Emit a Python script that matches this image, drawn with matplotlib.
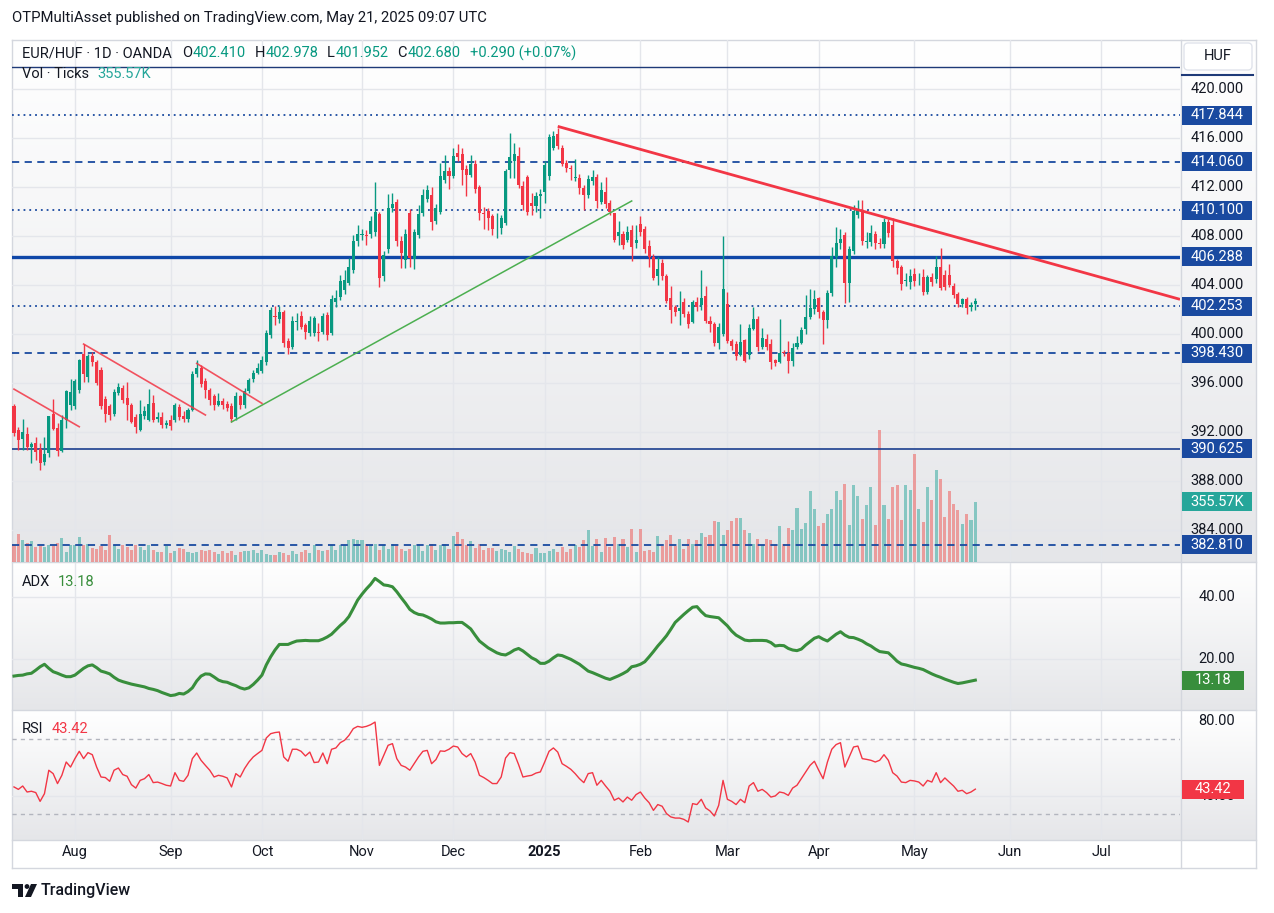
"""
EUR/HUF daily chart (TradingView style) with volume, ADX and RSI panes.
"""

import numpy as np
import pandas as pd
import matplotlib
matplotlib.use("Agg")
import matplotlib.pyplot as plt
import matplotlib.transforms as mtransforms
from matplotlib.patches import Rectangle, FancyBboxPatch, Polygon, Circle
from matplotlib.colors import LinearSegmentedColormap

W, H = 1274, 913

# ── Data ────────────────────────────────────────────────
HOLIDAYS = ["2024-12-25", "2025-01-01"]

jul_open = [394.13, 392.17, 391.43, 391.84, 390.81, 391.08, 390.62, 389.58, 390.30, 393.47, 392.36, 390.48, 392.98, 394.20]
jul_high = [394.30, 392.44, 393.04, 392.44, 391.21, 391.62, 391.08, 391.62, 393.31, 394.67, 392.70, 393.39, 395.43, 396.30]
jul_low = [391.68, 390.53, 390.53, 390.50, 389.50, 389.72, 388.90, 389.31, 389.99, 392.20, 390.04, 390.40, 392.30, 393.80]
jul_close = [391.90, 391.35, 392.03, 390.81, 391.02, 390.40, 389.50, 390.21, 393.31, 392.25, 390.48, 392.98, 395.38, 395.30]

aug_open = [394.10, 395.40, 398.40, 396.50, 398.20, 397.70, 397.10, 394.70, 394.10, 393.50, 395.20, 395.60, 394.80, 394.20, 393.20, 392.20, 393.30, 393.00, 394.40, 393.10, 393.20, 392.60]
aug_high = [396.30, 398.00, 399.20, 398.40, 398.50, 397.90, 397.30, 394.90, 394.30, 395.50, 396.00, 395.80, 396.10, 394.40, 393.50, 394.60, 394.10, 395.50, 395.00, 393.60, 393.60, 393.00]
aug_low = [393.90, 395.20, 396.10, 396.10, 397.40, 395.80, 393.90, 392.80, 393.00, 393.30, 395.00, 394.40, 393.00, 392.70, 391.90, 392.10, 393.10, 392.90, 392.80, 392.80, 392.30, 392.30]
aug_close = [396.20, 397.90, 396.70, 398.20, 397.70, 396.00, 394.10, 393.50, 393.40, 395.30, 395.70, 394.60, 394.20, 392.85, 392.44, 393.50, 393.75, 394.30, 393.00, 393.20, 392.60, 392.70]

sep_open = [393.00, 392.98, 394.07, 393.30, 393.10, 393.80, 396.70, 397.20, 396.20, 395.40, 394.90, 394.20, 394.50, 394.30, 394.10, 393.25, 394.90, 394.20, 395.35, 396.30, 396.85]
sep_high = [393.40, 394.40, 394.30, 393.70, 394.00, 397.00, 397.90, 397.50, 396.40, 395.60, 395.10, 395.20, 394.80, 394.50, 394.40, 395.30, 395.00, 395.60, 396.40, 397.10, 397.60]
sep_low = [392.20, 392.80, 393.00, 392.80, 392.80, 393.70, 396.50, 395.70, 394.80, 394.20, 393.80, 394.10, 393.90, 393.70, 392.80, 393.00, 393.90, 394.00, 395.20, 396.10, 396.70]
sep_close = [392.50, 394.20, 393.25, 393.10, 393.80, 396.70, 397.20, 395.90, 395.40, 394.60, 394.20, 394.50, 394.20, 394.00, 393.10, 394.90, 394.20, 395.35, 396.25, 396.80, 397.20]

oct_open = [397.00, 397.70, 399.90, 401.50, 401.20, 401.80, 399.40, 398.90, 401.00, 401.50, 400.70, 400.10, 400.10, 400.20, 400.20, 401.55, 400.06, 402.60, 403.04, 403.60, 404.20, 405.20, 407.60]
oct_high = [398.20, 400.30, 402.20, 402.30, 402.30, 402.00, 399.70, 401.50, 401.70, 401.90, 400.90, 401.50, 401.50, 400.90, 401.70, 401.80, 403.20, 403.60, 404.80, 405.20, 406.20, 408.10, 408.90]
oct_low = [396.80, 397.50, 399.70, 400.70, 400.90, 398.90, 398.40, 398.80, 400.30, 400.40, 399.60, 399.80, 399.80, 399.40, 400.00, 399.50, 399.90, 402.20, 402.80, 403.30, 404.00, 405.00, 407.20]
oct_close = [397.90, 400.10, 402.00, 401.35, 401.80, 399.30, 398.85, 401.06, 401.10, 400.60, 400.20, 401.10, 401.30, 400.10, 401.47, 399.90, 402.86, 402.90, 404.30, 404.40, 405.50, 407.60, 408.20]

nov_open = [408.10, 408.10, 408.15, 408.35, 409.80, 404.70, 406.90, 410.26, 410.80, 407.60, 406.04, 409.85, 406.10, 408.10, 409.85, 411.00, 411.34, 409.20, 410.00, 412.60, 413.30]
nov_high = [408.60, 408.50, 409.60, 412.40, 410.00, 406.80, 411.40, 411.50, 411.00, 408.00, 408.60, 410.20, 408.60, 410.50, 411.80, 412.20, 412.00, 410.60, 414.00, 414.60, 413.60]
nov_low = [407.70, 407.30, 407.80, 408.00, 403.80, 404.30, 406.60, 410.00, 407.20, 405.40, 405.40, 405.50, 405.30, 407.80, 409.60, 410.80, 408.50, 409.00, 409.80, 412.30, 411.80]
nov_close = [408.10, 408.00, 409.25, 409.98, 404.60, 406.45, 410.26, 410.60, 407.60, 406.60, 408.20, 406.20, 408.35, 409.80, 411.35, 411.75, 409.17, 410.26, 412.90, 413.30, 412.90]

dec_open = [412.90, 414.75, 414.70, 413.50, 413.00, 413.90, 412.00, 409.90, 410.07, 409.60, 408.70, 408.63, 409.04, 413.39, 414.15, 414.53, 412.11, 412.85, 410.67, 410.48, 411.30]
dec_high = [415.20, 415.50, 415.20, 413.80, 414.60, 414.20, 412.20, 410.40, 410.30, 409.80, 409.90, 409.70, 413.50, 416.40, 415.60, 415.30, 412.50, 413.00, 411.50, 411.60, 411.80]
dec_low = [412.70, 414.10, 412.20, 411.30, 412.80, 411.50, 409.30, 408.60, 408.50, 408.10, 407.80, 408.20, 408.90, 412.70, 412.70, 411.90, 410.10, 409.70, 409.70, 410.00, 409.50]
dec_close = [414.50, 414.47, 413.40, 413.00, 413.90, 411.80, 409.90, 409.80, 409.44, 408.54, 408.75, 409.44, 413.31, 414.45, 414.67, 412.17, 410.53, 409.99, 410.48, 411.27, 411.43]

jan_open = [411.62, 412.90, 415.21, 416.33, 415.16, 413.93, 413.58, 412.71, 412.71, 411.95, 411.35, 412.49, 412.85, 410.75, 411.57, 410.67, 409.85, 408.03, 408.14, 407.68, 408.49, 407.46]
jan_high = [414.10, 416.30, 416.60, 416.85, 415.40, 414.20, 413.80, 414.30, 413.10, 412.20, 413.00, 413.40, 413.10, 412.40, 412.80, 410.90, 409.90, 409.20, 408.40, 408.80, 408.90, 408.90]
jan_low = [410.70, 412.60, 415.00, 415.10, 413.70, 413.20, 412.60, 412.50, 411.40, 410.10, 411.10, 412.20, 410.30, 410.60, 410.30, 409.70, 407.50, 407.30, 406.90, 407.50, 406.00, 407.00]
jan_close = [413.80, 416.11, 416.17, 415.38, 413.88, 413.58, 413.47, 412.79, 411.95, 411.35, 412.66, 412.85, 410.86, 411.76, 410.59, 409.99, 407.68, 408.36, 407.27, 408.30, 407.13, 407.68]

feb_open = [409.00, 408.60, 407.20, 406.30, 404.70, 405.80, 404.70, 402.90, 402.20, 401.90, 402.60, 401.60, 401.00, 402.60, 402.40, 403.10, 401.10, 400.80, 399.30, 400.00]
feb_high = [409.60, 408.80, 407.70, 406.50, 406.30, 406.10, 404.90, 403.90, 402.40, 403.50, 402.90, 401.90, 402.80, 403.00, 405.20, 403.90, 401.50, 401.00, 400.90, 408.00]
feb_low = [408.00, 406.60, 405.50, 404.40, 404.00, 404.40, 402.50, 400.90, 401.50, 400.70, 401.40, 400.50, 400.90, 401.90, 402.00, 400.90, 400.20, 399.00, 398.80, 399.80]
feb_close = [408.30, 406.90, 406.30, 404.55, 405.30, 404.70, 402.70, 402.00, 401.80, 402.10, 401.60, 400.80, 402.60, 402.20, 402.90, 401.10, 400.80, 399.30, 400.60, 403.65]

mar_open = [402.45, 399.46, 399.19, 398.29, 399.51, 398.29, 400.41, 401.20, 398.97, 399.60, 399.19, 397.88, 397.75, 398.51, 398.48, 397.83, 398.92, 399.24, 400.41, 401.36, 402.02]
mar_high = [403.40, 399.60, 399.40, 400.80, 399.60, 400.80, 402.18, 401.50, 400.50, 400.00, 399.60, 398.00, 401.20, 398.70, 399.40, 399.30, 399.80, 400.60, 403.19, 403.70, 403.60]
mar_low = [399.30, 398.70, 397.88, 398.20, 397.70, 398.00, 400.30, 398.60, 398.80, 398.70, 397.12, 397.40, 397.60, 398.20, 396.85, 397.40, 398.80, 399.20, 400.00, 401.20, 401.60]
mar_close = [399.46, 399.02, 398.21, 399.32, 397.83, 400.52, 401.20, 398.97, 399.70, 398.92, 397.75, 397.66, 398.43, 398.43, 397.83, 398.89, 399.24, 400.33, 401.36, 402.10, 402.83]

apr_open = [402.92, 401.83, 401.15, 403.32, 406.32, 407.41, 408.09, 404.14, 406.78, 409.72, 410.05, 407.54, 407.54, 408.14, 407.46, 407.35, 409.17, 408.90, 405.99, 405.50, 404.33, 404.28]
apr_high = [403.00, 402.00, 403.60, 407.13, 408.70, 408.60, 408.30, 407.20, 410.50, 410.94, 410.94, 408.30, 408.90, 408.40, 407.80, 409.50, 409.40, 409.50, 406.10, 405.60, 405.00, 405.30]
apr_low = [401.30, 399.20, 400.50, 403.10, 405.50, 406.90, 402.56, 402.64, 406.50, 409.50, 407.30, 407.00, 407.20, 406.90, 407.00, 407.00, 407.90, 405.50, 404.90, 403.60, 403.90, 403.70]
apr_close = [401.83, 401.15, 403.32, 406.37, 407.41, 407.73, 404.14, 406.92, 410.05, 410.13, 407.62, 407.62, 408.22, 407.46, 407.35, 409.17, 408.28, 405.99, 405.37, 404.09, 404.41, 404.74]

may_open = [404.90, 404.47, 404.63, 403.46, 404.63, 404.47, 405.50, 404.82, 404.82, 403.95, 403.27, 402.45, 402.89, 402.18, 402.41]
may_high = [405.40, 405.00, 405.30, 404.80, 405.00, 406.40, 407.00, 405.20, 405.70, 404.20, 403.40, 402.90, 403.00, 402.60, 402.978]
may_low = [403.90, 404.00, 403.20, 403.30, 403.90, 404.20, 403.60, 403.60, 403.80, 402.90, 402.20, 402.20, 401.60, 401.90, 401.952]
may_close = [404.36, 404.50, 403.46, 404.63, 404.28, 405.50, 403.73, 403.81, 404.00, 403.19, 402.45, 402.83, 402.10, 402.39, 402.68]

# tick volume, thousands
volume_k = (
    [99, 168, 128, 115, 122, 89, 93, 89, 99, 93, 115, 142, 57, 103]
    + [99, 148, 99, 105, 85, 79, 93, 69, 158, 99, 75, 99, 89, 69, 99, 89, 69, 99, 69, 59, 59, 93]
    + [53, 65, 83, 79, 59, 53, 59, 73, 63, 69, 57, 49, 63, 55, 63, 43, 57, 63, 65, 73, 55]
    + [69, 49, 43, 40, 59, 53, 40, 65, 49, 59, 69, 53, 99, 69, 65, 69, 99, 69, 99, 103, 128, 138, 132]
    + [132, 105, 99, 105, 73, 99, 79, 105, 93, 79, 65, 79, 99, 105, 65, 103, 105, 73, 99, 109, 79]
    + [152, 178, 134, 99, 124, 83, 105, 69, 85, 83, 63, 79, 73, 59, 93, 79, 57, 55, 49, 83, 53]
    + [53, 65, 79, 59, 89, 59, 79, 99, 89, 128, 188, 93, 138, 59, 144, 89, 148, 105, 134, 89, 198, 59]
    + [198, 63, 69, 59, 152, 93, 132, 162, 93, 138, 79, 138, 105, 132, 172, 148, 158, 243, 237, 158]
    + [188, 241, 261, 261, 188, 172, 105, 138, 99, 138, 128, 99, 211, 109, 203, 188, 322, 198, 231, 419, 316]
    + [211, 231, 282, 316, 419, 365, 464, 217, 454, 389, 253, 336, 444, 217, 780, 336, 253, 444, 454, 251, 458, 425]
    + [642, 316, 237, 444, 365, 547, 494, 267, 421, 346, 310, 223, 282, 251, 355.57]
)

adx = (
    [14.5, 14.7, 14.8, 15.2, 15.4, 16.4, 17.5, 18.3, 17.0, 15.9, 15.4, 14.8, 14.3, 14.3]
    + [14.8, 15.9, 17.0, 17.8, 18.1, 17.2, 16.1, 15.7, 15.2, 14.1, 13.2, 12.7, 12.3, 11.9, 11.6, 11.3, 11.0, 10.5, 10.2, 9.8, 9.2, 8.7]
    + [8.2, 8.4, 8.9, 8.7, 9.5, 10.7, 12.9, 14.5, 15.2, 15.1, 14.2, 13.2, 12.7, 12.5, 11.9, 11.4, 10.7, 10.3, 10.7, 11.8, 13.2]
    + [14.8, 18.1, 20.7, 22.9, 24.7, 24.7, 24.7, 25.3, 25.8, 25.9, 26.0, 25.9, 25.9, 25.9, 26.4, 27.1, 28.0, 29.4, 30.8, 32.0, 33.7, 36.3, 39.0]
    + [40.9, 42.6, 44.1, 46.0, 45.0, 43.9, 43.7, 43.3, 41.7, 39.8, 38.0, 36.0, 35.0, 34.4, 34.2, 33.6, 32.9, 32.0, 31.6, 31.6, 31.7]
    + [31.7, 31.8, 31.8, 30.8, 29.7, 27.7, 25.8, 24.7, 23.6, 22.8, 22.0, 21.5, 21.3, 22.0, 22.9, 23.4, 22.6, 21.5, 20.4, 19.7, 18.6]
    + [18.6, 19.3, 20.4, 21.3, 21.1, 20.5, 19.9, 19.1, 18.3, 17.2, 16.1, 15.6, 15.0, 14.4, 13.8, 13.4, 14.0, 14.6, 15.3, 16.1, 17.5, 17.8]
    + [18.3, 19.1, 20.7, 22.4, 24.2, 25.8, 27.5, 29.6, 31.8, 33.1, 34.4, 35.6, 36.7, 36.9, 35.3, 34.0, 33.7, 33.5, 33.3, 32.0]
    + [30.7, 29.0, 27.7, 26.9, 26.1, 25.9, 26.0, 26.0, 26.0, 25.9, 25.3, 24.2, 24.4, 24.3, 23.4, 22.9, 22.7, 23.2, 24.5, 25.6, 26.7]
    + [27.2, 26.4, 25.8, 26.9, 28.0, 28.8, 27.7, 27.0, 26.9, 26.4, 25.8, 24.9, 24.2, 23.2, 22.4, 22.2, 22.0, 20.7, 19.3, 18.4, 18.1, 17.7]
    + [17.3, 17.0, 16.6, 15.9, 15.2, 14.6, 14.1, 13.5, 13.0, 12.5, 12.1, 12.3, 12.6, 12.9, 13.18]
)

rsi = (
    [44.6, 43.3, 45.1, 41.9, 42.3, 41.6, 36.9, 41.0, 53.5, 51.7, 46.4, 50.8, 57.9, 55.2]
    + [59.7, 63.6, 59.7, 62.9, 61.8, 55.2, 49.9, 49.6, 47.6, 53.5, 54.7, 51.2, 50.3, 45.8, 44.0, 48.1, 49.0, 51.2, 46.9, 47.2, 46.4, 45.5]
    + [45.1, 52.2, 48.1, 47.6, 50.8, 59.7, 62.7, 58.8, 56.1, 53.5, 49.9, 50.8, 50.3, 49.4, 44.6, 51.7, 49.9, 54.4, 57.9, 60.6, 62.4]
    + [64.1, 70.7, 73.0, 73.6, 73.9, 60.6, 58.3, 64.7, 64.7, 63.6, 61.1, 63.2, 57.6, 57.9, 62.7, 57.0, 64.7, 65.4, 68.2, 69.5, 72.1, 75.7, 76.9]
    + [76.4, 76.9, 77.8, 79.2, 56.1, 61.5, 66.8, 67.7, 59.7, 56.1, 55.2, 53.5, 57.0, 60.6, 63.6, 64.1, 57.0, 59.2, 63.8, 63.6, 64.7]
    + [66.4, 65.9, 62.4, 60.6, 62.4, 57.9, 50.8, 49.6, 48.1, 46.4, 46.4, 49.9, 60.0, 62.9, 62.4, 56.5, 49.9, 50.4, 50.8, 52.0, 52.6]
    + [57.9, 63.6, 65.4, 63.2, 57.0, 55.6, 54.0, 51.7, 49.0, 46.9, 51.7, 52.2, 45.5, 48.1, 45.1, 42.3, 37.5, 38.7, 36.6, 39.2, 37.5, 40.5]
    + [41.9, 38.7, 36.2, 32.1, 35.2, 34.3, 30.4, 28.6, 28.0, 28.0, 27.3, 25.9, 35.7, 35.2, 38.0, 33.4, 31.8, 29.1, 34.8, 48.1]
    + [38.0, 36.9, 35.2, 38.0, 36.2, 45.1, 46.9, 42.3, 43.3, 41.6, 39.2, 39.8, 41.9, 41.4, 40.1, 44.0, 45.5, 49.0, 52.6, 56.1, 58.3]
    + [53.5, 49.0, 57.9, 64.7, 67.2, 68.2, 55.2, 60.6, 65.9, 66.4, 59.7, 59.3, 58.8, 57.9, 58.8, 61.8, 58.8, 52.2, 50.4, 47.2, 46.9, 48.1]
    + [47.8, 47.2, 45.1, 48.1, 47.2, 52.2, 46.9, 49.4, 47.2, 45.1, 42.3, 42.8, 41.0, 41.9, 43.42]
)

# horizontal levels drawn on the chart
LEVELS = [421.80, 417.844, 414.060, 410.100, 406.288, 402.253, 398.430, 390.625, 382.810]
LEVEL_STYLE = ["top", "dot", "dash", "dot", "solid", "dot", "dash", "thin", "dash"]

# trend lines (date, price)
TREND_DOWN = [("2025-01-07", 416.95), ("2025-04-14", 410.14)]
TREND_UP = [("2024-09-20", 392.82), ("2025-01-30", 410.86)]
TREND_SMALL = [
    [("2024-07-12", 395.50), ("2024-08-02", 392.43)],
    [("2024-08-05", 399.18), ("2024-09-12", 393.39)],
    [("2024-09-10", 397.60), ("2024-10-01", 394.34)],
]

PRICE_TICKS = [420, 416, 412, 408, 404, 400, 396, 392, 388, 384]
ADX_TICKS = [40, 20]
RSI_TICKS = [80, 40]
MONTH_LABELS = ["Aug", "Sep", "Oct", "Nov", "Dec", "2025", "Feb", "Mar", "Apr", "May", "Jun", "Jul"]

# ── Arrays ───────────────────────────────────────────────
open_ = np.array(jul_open + aug_open + sep_open + oct_open + nov_open + dec_open
                 + jan_open + feb_open + mar_open + apr_open + may_open)
high = np.array(jul_high + aug_high + sep_high + oct_high + nov_high + dec_high
                + jan_high + feb_high + mar_high + apr_high + may_high)
low = np.array(jul_low + aug_low + sep_low + oct_low + nov_low + dec_low
               + jan_low + feb_low + mar_low + apr_low + may_low)
close = np.array(jul_close + aug_close + sep_close + oct_close + nov_close + dec_close
                 + jan_close + feb_close + mar_close + apr_close + may_close)
volume_k = np.array(volume_k, dtype=float)
adx = np.array(adx)
rsi = np.array(rsi)

dates = pd.bdate_range("2024-07-12", "2025-05-21")
dates = dates[~dates.isin(pd.to_datetime(HOLIDAYS))]
all_dates = dates.append(pd.bdate_range("2025-05-22", "2025-07-31"))
n = len(dates)
for arr in (open_, high, low, close, volume_k, adx, rsi):
    assert len(arr) == n, len(arr)
pos = {d: i for i, d in enumerate(all_dates)}

# ── Style ────────────────────────────────────────────────
plt.rcParams["font.family"] = ["Roboto", "DejaVu Sans"]
DARK = "#131722"
GREEN = "#089981"
RED = "#f23645"
BLUE = "#1a4aa0"
GRID = "#e4e6eb"
BORDER = "#d4d7de"

fig = plt.figure(figsize=(W / 100, H / 100), dpi=100)


def box(x0, y0, x1, y1):
    return [x0 / W, 1 - y1 / H, (x1 - x0) / W, (y1 - y0) / H]


# background (pixel coordinates)
bg = fig.add_axes([0, 0, 1, 1], zorder=-10)
cmap = LinearSegmentedColormap.from_list("pane", ["#ffffff", "#e5e6e9"])
grad = np.linspace(0, 1, 256).reshape(-1, 1)
for y0, y1 in [(40, 562), (563, 710), (711, 840)]:
    bg.imshow(grad, extent=[12, 1256, y1, y0], cmap=cmap, aspect="auto", interpolation="bilinear")
bg.set_xlim(0, W)
bg.set_ylim(H, 0)
bg.axis("off")
for y in (40, 562.5, 710.5, 840, 868):
    bg.plot([12, 1256], [y, y], color=BORDER, lw=1)
for x in (12, 1180.5, 1256):
    bg.plot([x, x], [40, 868], color=BORDER, lw=1)

XMIN, XMAX = -0.46, 268.05
month_pos = []
for m in pd.period_range("2024-08", "2025-07", freq="M"):
    month_pos.append(int(np.argmax(all_dates.to_period("M") == m)))

# ── Price pane ───────────────────────────────────────────
PMIN, PMAX = 381.39, 424.0
gax = fig.add_axes(box(12, 40, 1180, 562), zorder=1)
vax = fig.add_axes(box(12, 40, 1180, 562), zorder=2, sharex=gax)
ax = fig.add_axes(box(12, 40, 1180, 562), zorder=3, sharex=gax)
for a in (gax, vax, ax):
    a.set_facecolor("none")
    a.axis("off")
gax.set_ylim(PMIN, PMAX)
ax.set_ylim(PMIN, PMAX)
ax.set_xlim(XMIN, XMAX)
for p in PRICE_TICKS:
    gax.axhline(p, color=GRID, lw=1)
for mp in month_pos:
    gax.axvline(mp, color=GRID, lw=1)

idx = np.arange(n)
up = close >= open_
col = np.where(up, GREEN, RED)

# volume overlay
VOL_TOP = 3093
vax.bar(idx, volume_k, width=0.7, color=np.where(up, "#26a69a", "#ef5350"), alpha=0.5, lw=0)
vax.set_ylim(0, VOL_TOP)

# candles
ax.vlines(idx, low, high, color=col, lw=1, zorder=4)
ax.bar(idx, np.maximum(np.abs(close - open_), 0.05), bottom=np.minimum(open_, close),
       width=0.7, color=col, lw=0, zorder=5)

# horizontal levels
for lv, st in zip(LEVELS, LEVEL_STYLE):
    if st == "dot":
        ax.axhline(lv, color=BLUE, lw=1.3, ls=(0, (1, 2.2)), zorder=3)
    elif st == "dash":
        ax.axhline(lv, color=BLUE, lw=1.3, ls=(0, (4, 3)), zorder=3)
    elif st == "solid":
        ax.axhline(lv, color="#0f47a8", lw=2.4, zorder=3)
    elif st == "thin":
        ax.axhline(lv, color="#1b3f8f", lw=1.2, zorder=3)
    else:
        ax.axhline(lv, color="#1e3a78", lw=1.0, zorder=3)

# trend lines
(d1, p1), (d2, p2) = TREND_DOWN
i1, i2 = pos[pd.Timestamp(d1)], pos[pd.Timestamp(d2)]
slope = (p2 - p1) / (i2 - i1)
ax.plot([i1, XMAX], [p1, p1 + slope * (XMAX - i1)], color=RED, lw=2, zorder=6, solid_capstyle="butt")
(d1, p1), (d2, p2) = TREND_UP
ax.plot([pos[pd.Timestamp(d1)], pos[pd.Timestamp(d2)]], [p1, p2], color="#4caf50", lw=1.1, zorder=6)
for (d1, p1), (d2, p2) in TREND_SMALL:
    ax.plot([pos[pd.Timestamp(d1)], pos[pd.Timestamp(d2)]], [p1, p2], color=RED, lw=1.2, alpha=0.85, zorder=6)

# price scale
sax = fig.add_axes(box(1180, 40, 1256, 562), zorder=4)
sax.set_xlim(0, 76)
sax.set_ylim(PMIN, PMAX)
sax.axis("off")
for p in PRICE_TICKS:
    sax.text(37, p, f"{p:.3f}", ha="center", va="center", fontsize=10.5, color=DARK, zorder=1)
half = 9.5 / 12.25
for lv in LEVELS[1:]:
    sax.add_patch(Rectangle((2, lv - half), 70, 2 * half, color=BLUE, lw=0, zorder=2))
    sax.text(37, lv, f"{lv:.3f}", ha="center", va="center", fontsize=10.5, color="white", zorder=3)
vol_price = PMIN + volume_k[-1] / VOL_TOP * (PMAX - PMIN)
sax.add_patch(Rectangle((2, vol_price - half), 70, 2 * half, color="#26a69a", lw=0, zorder=2))
sax.text(37, vol_price, f"{volume_k[-1]:.2f}K", ha="center", va="center", fontsize=10.5, color="white", zorder=3)

bg.add_patch(FancyBboxPatch((1184, 43), 68, 27, boxstyle="round,pad=0,rounding_size=4",
                            fc="white", ec="#e0e3eb", lw=1, zorder=5))
bg.text(1218, 56, "HUF", ha="center", va="center", fontsize=10.5, color=DARK, zorder=6)
bg.plot([1182, 1253], [75, 75], color="#1e3a78", lw=1.5, zorder=5)

# ── ADX pane ─────────────────────────────────────────────
aax = fig.add_axes(box(12, 563, 1180, 710), sharex=gax)
aax.set_facecolor("none")
aax.axis("off")
aax.set_ylim(3.55, 50.97)
for t in ADX_TICKS:
    aax.axhline(t, color=GRID, lw=1)
for mp in month_pos:
    aax.axvline(mp, color=GRID, lw=1)
aax.plot(idx, adx, color="#388e3c", lw=2.2, solid_joinstyle="round")

sadx = fig.add_axes(box(1180, 563, 1256, 710))
sadx.set_xlim(0, 76)
sadx.set_ylim(3.55, 50.97)
sadx.axis("off")
for t in ADX_TICKS:
    sadx.text(37, t, f"{t:.2f}", ha="center", va="center", fontsize=10.5, color=DARK)
hh = 9.5 / 3.1
sadx.add_patch(Rectangle((2, adx[-1] - hh), 62, 2 * hh, color="#388e3c", lw=0))
sadx.text(33, adx[-1], f"{adx[-1]:.2f}", ha="center", va="center", fontsize=10.5, color="white")

# ── RSI pane ─────────────────────────────────────────────
rax = fig.add_axes(box(12, 711, 1180, 840), sharex=gax)
rax.set_facecolor("none")
rax.axis("off")
rax.set_ylim(16.3, 85.1)
rax.axhline(40, color=GRID, lw=1)
for mp in month_pos:
    rax.axvline(mp, color=GRID, lw=1)
for t in (70, 30):
    rax.axhline(t, color="#b2b5be", lw=1, ls=(0, (3, 3)))
rax.plot(idx, rsi, color=RED, lw=1.0)

srsi = fig.add_axes(box(1180, 711, 1256, 840))
srsi.set_xlim(0, 76)
srsi.set_ylim(16.3, 85.1)
srsi.axis("off")
hr = 9.5 / 1.875
badge = Rectangle((2, rsi[-1] - hr), 62, 2 * hr, color=RED, lw=0, zorder=2)
srsi.add_patch(badge)
srsi.text(33, rsi[-1], f"{rsi[-1]:.2f}", ha="center", va="center", fontsize=10.5, color="white", zorder=3)
for t in RSI_TICKS:
    lab = srsi.text(37, t, f"{t:.2f}", ha="center", va="center", fontsize=10.5, color=DARK, zorder=1)
    if abs(t - rsi[-1]) < 2 * hr:
        # only the part below the last-value badge stays visible, as on the original
        lab.set_clip_path(Rectangle((0, 16.3), 76, rsi[-1] - hr - 16.3, transform=srsi.transData))

# ── Date axis ────────────────────────────────────────────
tr = mtransforms.blended_transform_factory(rax.transData, fig.transFigure)
for mp, lab in zip(month_pos, MONTH_LABELS):
    rax.text(mp, 1 - 852 / H, lab, transform=tr, ha="center", va="center", fontsize=10.5,
             color=DARK, fontweight="bold" if lab == "2025" else "normal", clip_on=False)

# ── Texts ────────────────────────────────────────────────
r = fig.canvas.get_renderer()


def chain(x, y, parts, size=10.5):
    for txt, color, gap in parts:
        t = fig.text(x / W, 1 - y / H, txt, color=color, fontsize=size, ha="left", va="center")
        x += t.get_window_extent(renderer=r).width + gap


fig.text(12 / W, 1 - 18 / H, "OTPMultiAsset published on TradingView.com, May 21, 2025 09:07 UTC",
         fontsize=10.7, color=DARK, ha="left", va="center")

chg = close[-1] - close[-2]
pct = chg / close[-2] * 100
chain(22, 53, [
    ("EUR/HUF · 1D · OANDA", DARK, 10),
    ("O", DARK, 0.5), (f"{open_[-1]:.3f}", GREEN, 9),
    ("H", DARK, 0.5), (f"{high[-1]:.3f}", GREEN, 9),
    ("L", DARK, 0.5), (f"{low[-1]:.3f}", GREEN, 9),
    ("C", DARK, 0.5), (f"{close[-1]:.3f}", GREEN, 9),
    (f"{chg:+.3f} ({pct:+.2f}%)", GREEN, 0),
])
chain(22, 74, [("Vol · Ticks", DARK, 8), (f"{volume_k[-1]:.2f}K", "#26a69a", 0)])
chain(22, 582, [("ADX", DARK, 8), (f"{adx[-1]:.2f}", "#388e3c", 0)])
chain(22, 729, [("RSI", DARK, 8), (f"{rsi[-1]:.2f}", RED, 0)])

# TradingView logo
bg.add_patch(Polygon([(12, 884), (23, 884), (23, 897), (18, 897), (18, 889), (12, 889)], color=DARK, lw=0))
bg.add_patch(Circle((27, 886.5), 2.4, color=DARK, lw=0))
bg.add_patch(Polygon([(31, 884), (37, 884), (31, 897), (25, 897)], color=DARK, lw=0))
bg.text(41, 891, "TradingView", fontsize=11.5, color=DARK, ha="left", va="center", fontweight="medium")

fig.savefig("out.png", dpi=100)
plt.close(fig)
